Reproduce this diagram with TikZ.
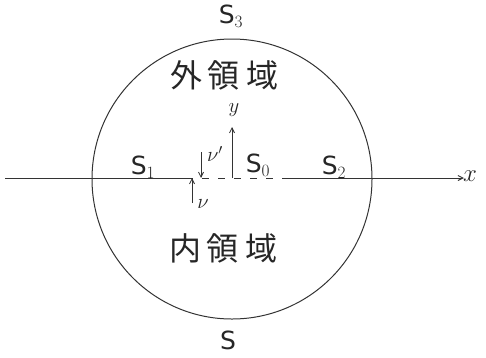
\documentclass[tikz,border=0pt]{standalone}
\usepackage{fontspec}
\newfontfamily\cjk{Noto Sans CJK JP}[Scale=1]
\setsansfont{DejaVu Sans}
\usetikzlibrary{arrows.meta}
\begin{document}
\begin{tikzpicture}[x=1pt,y=-1pt,
  ink/.style={draw=black!80, line width=1pt},
  tip/.style={-{Straight Barb[length=5pt,width=5pt]}},
  lbl/.style={inner sep=0pt, text=black!85},
  kanji/.style={lbl, font=\cjk\fontsize{32}{32}\selectfont},
  slabel/.style={lbl, font=\sffamily\fontsize{25}{25}\selectfont},
  greek/.style={lbl, font=\fontsize{22}{22}\selectfont}]
\useasboundingbox (0,0) rectangle (486,357);
% circle
\node[ink, circle, minimum size=280pt, inner sep=0pt] (C) at (232,179) {};
% axis
\coordinate (axL) at (5,178);
\coordinate (d1) at (186,178);
\coordinate (d2) at (287,178);
\coordinate (axR) at (464,178);
\draw[ink] (axL) -- (d1);
\draw[ink, dash pattern=on 7pt off 9pt] (d1) -- (d2);
\draw[ink, tip] (d2) -- (axR);
\node[lbl, font=\fontsize{30}{30}\selectfont, anchor=west] (xl) at (463,176) {$x$};
% normal arrows
\coordinate (o) at (232,178);
\coordinate (ytop) at (232,127);
\draw[ink, line width=0.8pt, tip] (o) -- (ytop);
\node[greek] (yl) at (234,110) {$y$};
\coordinate (nd) at (201,178);
\coordinate (ndtop) at (201,152);
\draw[ink, line width=0.8pt, tip] (ndtop) -- (nd);
\node[greek] (npl) at (215,154) {$\nu'$};
\coordinate (nu) at (192,178);
\coordinate (nubot) at (192,203);
\draw[ink, line width=0.8pt, tip] (nubot) -- (nu);
\node[greek] (nl) at (203,204) {$\nu$};
% labels
\node[slabel] (S1) at (143,167) {S$_1$};
\node[slabel] (S0) at (258,165) {S$_0$};
\node[slabel] (S2) at (334,167) {S$_2$};
\node[slabel] (S3) at (231,16) {S$_3$};
\node[slabel] (S) at (228,340) {S};
\node[kanji] (out) at (224,75) {外\hspace{6pt}領\hspace{6pt}域};
\node[kanji] (in) at (223,248) {内\hspace{6pt}領\hspace{6pt}域};
\end{tikzpicture}
\end{document}
